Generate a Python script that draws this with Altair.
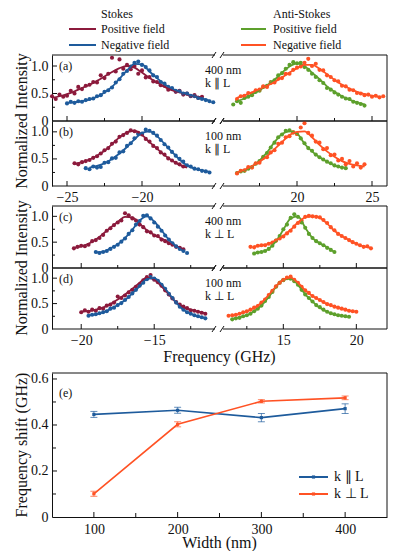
import altair as alt
import pandas as pd

FONT = "Liberation Serif"
BLACK = "#111111"
C_STOKES_POS = "#8c1a3c"
C_STOKES_NEG = "#1e5b9c"
C_ANTI_POS = "#5da02c"
C_ANTI_NEG = "#ff5224"

LEGEND_TITLES = ["Stokes", "Anti-Stokes"]
LEGEND_LABELS = ["Positive field", "Negative field"]
PANEL_TAGS = ["(a)", "(b)", "(c)", "(d)", "(e)"]
PANEL_NOTES = [["400 nm", "k \u2225 L"], ["100 nm", "k \u2225 L"],
               ["400 nm", "k \u22a5 L"], ["100 nm", "k \u22a5 L"]]
Y_TITLE_SPEC = "Normalized Intensity"
X_TITLE_SPEC = "Frequency (GHz)"
Y_TITLE_SHIFT = "Frequency shift (GHz)"
X_TITLE_WIDTH = "Width (nm)"
E_SERIES = ["k \u2225 L", "k \u22a5 L"]

# frequency sample grids (GHz)
GRID_AB_S = [-26.0, -25.75, -25.5, -25.25, -25.0, -24.75, -24.5, -24.25, -24.0, -23.75, -23.5, -23.25,
             -23.0, -22.75, -22.5, -22.25, -22.0, -21.75, -21.5, -21.25, -21.0, -20.75, -20.5, -20.25,
             -20.0, -19.75, -19.5, -19.25, -19.0, -18.75, -18.5, -18.25, -18.0, -17.75, -17.5, -17.25,
             -17.0, -16.75, -16.5, -16.25, -16.0, -15.75, -15.5, -15.25, -15.0]
GRID_AB_A = [15.0, 15.25, 15.5, 15.75, 16.0, 16.25, 16.5, 16.75, 17.0, 17.25, 17.5, 17.75,
             18.0, 18.25, 18.5, 18.75, 19.0, 19.25, 19.5, 19.75, 20.0, 20.25, 20.5, 20.75,
             21.0, 21.25, 21.5, 21.75, 22.0, 22.25, 22.5, 22.75, 23.0, 23.25, 23.5, 23.75,
             24.0, 24.25, 24.5, 24.75, 25.0, 25.25, 25.5, 25.75, 26.0]
GRID_CD_S = [-22.0, -21.75, -21.5, -21.25, -21.0, -20.75, -20.5, -20.25, -20.0, -19.75, -19.5, -19.25,
             -19.0, -18.75, -18.5, -18.25, -18.0, -17.75, -17.5, -17.25, -17.0, -16.75, -16.5, -16.25,
             -16.0, -15.75, -15.5, -15.25, -15.0, -14.75, -14.5, -14.25, -14.0, -13.75, -13.5, -13.25,
             -13.0, -12.75, -12.5, -12.25, -12.0, -11.75, -11.5, -11.25, -11.0]
GRID_CD_A = [11.0, 11.25, 11.5, 11.75, 12.0, 12.25, 12.5, 12.75, 13.0, 13.25, 13.5, 13.75,
             14.0, 14.25, 14.5, 14.75, 15.0, 15.25, 15.5, 15.75, 16.0, 16.25, 16.5, 16.75,
             17.0, 17.25, 17.5, 17.75, 18.0, 18.25, 18.5, 18.75, 19.0, 19.25, 19.5, 19.75,
             20.0, 20.25, 20.5, 20.75, 21.0, 21.25, 21.5, 21.75, 22.0]

# panel (a): 400 nm, k || L
A_S_POS_PTS = (-26.0, [0.45, 0.40, 0.48, 0.44, 0.46, 0.55, 0.50, 0.62, 0.58, 0.64, 0.66, 0.71, 0.70, 0.83, 0.78, 0.86,
                       1.15, 0.90, 1.12, 0.95, 1.02, 0.94, 1.00, 0.86, 0.92, 0.79, 0.80, 0.72, 0.71, 0.65, 0.64, 0.57,
                       0.58, 0.53, 0.55, 0.48, 0.50, 0.45, 0.47, 0.42, 0.44])
A_S_POS_FIT = (-26.0, [0.42, 0.45, 0.49, 0.54, 0.60, 0.66, 0.73, 0.81, 0.89, 0.96, 1.00, 0.97, 0.88, 0.78, 0.70, 0.62,
                       0.56, 0.52, 0.48, 0.45, 0.43])
A_S_NEG_PTS = (-25.0, [0.32, 0.35, 0.33, 0.36, 0.35, 0.38, 0.40, 0.41, 0.45, 0.47, 0.53, 0.56, 0.61, 0.70, 0.76, 0.86,
                       0.91, 0.99, 1.06, 1.08, 1.02, 0.98, 0.92, 0.83, 0.80, 0.71, 0.68, 0.62, 0.60, 0.55, 0.54, 0.50,
                       0.50, 0.46, 0.45, 0.42, 0.40, 0.38, 0.36, 0.34])
A_S_NEG_FIT = (-25.0, [0.33, 0.34, 0.36, 0.39, 0.44, 0.52, 0.62, 0.77, 0.92, 1.04, 1.03, 0.90, 0.78, 0.67, 0.59, 0.53,
                       0.49, 0.45, 0.41, 0.37])
A_A_POS_PTS = (15.75, [0.30, 0.36, 0.33, 0.42, 0.44, 0.47, 0.53, 0.55, 0.62, 0.64, 0.71, 0.74, 0.83, 0.87, 0.95, 1.02,
                       1.07, 1.05, 1.06, 0.98, 0.93, 0.86, 0.80, 0.74, 0.69, 0.60, 0.57, 0.52, 0.48, 0.44, 0.41, 0.40,
                       0.35, 0.33, 0.31, 0.28])
A_A_POS_FIT = (16.0, [0.36, 0.41, 0.48, 0.56, 0.65, 0.75, 0.88, 0.99, 1.05, 1.00, 0.88, 0.76, 0.63, 0.53, 0.45, 0.39,
                      0.34, 0.30])
A_A_NEG_PTS = (16.0, [0.40, 0.45, 0.46, 0.51, 0.50, 0.56, 0.57, 0.63, 0.62, 0.69, 0.70, 0.77, 0.78, 0.86, 0.86, 0.93,
                      0.97, 0.99, 1.06, 1.13, 1.00, 1.04, 0.93, 0.92, 0.83, 0.80, 0.74, 0.72, 0.64, 0.63, 0.57, 0.56,
                      0.51, 0.50, 0.47, 0.48, 0.44, 0.46, 0.43, 0.45])
A_A_NEG_FIT = (16.0, [0.42, 0.47, 0.52, 0.58, 0.64, 0.71, 0.79, 0.88, 0.96, 1.02, 1.02, 0.95, 0.85, 0.75, 0.66, 0.59,
                      0.53, 0.49, 0.46, 0.44])

# panel (b): 100 nm, k || L
B_S_POS_PTS = (-24.5, [0.42, 0.40, 0.44, 0.46, 0.48, 0.52, 0.55, 0.60, 0.66, 0.70, 0.78, 0.82, 0.91, 0.94, 0.98, 1.03,
                       1.01, 0.98, 0.95, 0.87, 0.82, 0.74, 0.70, 0.62, 0.58, 0.51, 0.47, 0.43, 0.40, 0.36])
B_S_POS_FIT = (-24.5, [0.41, 0.44, 0.49, 0.56, 0.65, 0.77, 0.90, 0.99, 1.02, 0.94, 0.81, 0.69, 0.57, 0.47, 0.39, 0.34])
B_S_NEG_PTS = (-23.75, [0.33, 0.31, 0.36, 0.34, 0.35, 0.43, 0.44, 0.51, 0.52, 0.62, 0.64, 0.74, 0.79, 0.88, 0.96, 0.97,
                        1.04, 1.02, 0.98, 0.93, 0.85, 0.77, 0.71, 0.63, 0.56, 0.50, 0.45, 0.38, 0.36, 0.32, 0.31, 0.28,
                        0.27, 0.25])
B_S_NEG_FIT = (-23.5, [0.34, 0.37, 0.42, 0.50, 0.60, 0.72, 0.86, 0.98, 1.01, 0.92, 0.78, 0.63, 0.49, 0.38, 0.32, 0.29,
                       0.26])
B_A_POS_PTS = (16.0, [0.24, 0.27, 0.28, 0.32, 0.35, 0.41, 0.46, 0.54, 0.61, 0.71, 0.80, 0.90, 0.95, 1.02, 1.03, 0.99,
                      0.96, 0.88, 0.79, 0.70, 0.65, 0.58, 0.53, 0.49, 0.45, 0.42, 0.38, 0.36, 0.34, 0.33])
B_A_POS_FIT = (16.0, [0.25, 0.29, 0.36, 0.47, 0.62, 0.81, 0.96, 1.01, 0.97, 0.78, 0.64, 0.53, 0.45, 0.38, 0.34])
B_A_NEG_PTS = (16.0, [0.23, 0.28, 0.29, 0.35, 0.34, 0.42, 0.43, 0.52, 0.53, 0.62, 0.66, 0.78, 0.80, 0.90, 0.92, 0.99,
                      0.96, 1.08, 1.16, 0.98, 0.93, 0.82, 0.80, 0.68, 0.70, 0.57, 0.58, 0.47, 0.50, 0.40, 0.46, 0.36,
                      0.42, 0.34, 0.40])
B_A_NEG_FIT = (16.0, [0.25, 0.30, 0.37, 0.45, 0.55, 0.68, 0.81, 0.94, 1.00, 1.01, 0.90, 0.76, 0.64, 0.54, 0.46, 0.41,
                      0.38, 0.36])

# panel (c): 400 nm, k perp L
C_S_POS_PTS = (-20.5, [0.38, 0.41, 0.43, 0.42, 0.45, 0.52, 0.54, 0.58, 0.64, 0.72, 0.77, 0.83, 0.88, 0.92, 1.06, 1.02,
                       0.96, 0.92, 0.84, 0.79, 0.71, 0.69, 0.63, 0.62, 0.55, 0.52, 0.48, 0.45, 0.41, 0.39, 0.36])
C_S_POS_FIT = (-20.5, [0.39, 0.42, 0.47, 0.55, 0.66, 0.78, 0.89, 0.99, 0.98, 0.86, 0.73, 0.64, 0.57, 0.49, 0.42, 0.36])
C_S_NEG_PTS = (-19.0, [0.31, 0.29, 0.31, 0.33, 0.37, 0.41, 0.45, 0.51, 0.57, 0.66, 0.73, 0.84, 0.91, 1.01, 1.02, 0.96,
                       0.88, 0.80, 0.72, 0.63, 0.55, 0.48, 0.42, 0.37, 0.33, 0.29])
C_S_NEG_FIT = (-19.0, [0.30, 0.31, 0.38, 0.46, 0.58, 0.74, 0.92, 1.00, 0.90, 0.73, 0.55, 0.42, 0.33])
C_A_POS_PTS = (13.0, [0.28, 0.30, 0.31, 0.33, 0.37, 0.43, 0.53, 0.62, 0.75, 0.84, 0.97, 1.04, 0.99, 0.88, 0.78, 0.66,
                      0.58, 0.52, 0.48, 0.44, 0.39, 0.35, 0.31])
C_A_POS_FIT = (13.0, [0.29, 0.31, 0.37, 0.52, 0.74, 0.96, 1.00, 0.78, 0.58, 0.48, 0.40, 0.31])
C_A_NEG_PTS = (12.75, [0.41, 0.40, 0.43, 0.44, 0.44, 0.47, 0.49, 0.53, 0.57, 0.61, 0.67, 0.72, 0.80, 0.87, 0.92, 0.99,
                       1.01, 1.00, 0.99, 0.98, 0.93, 0.87, 0.79, 0.73, 0.66, 0.62, 0.58, 0.54, 0.50, 0.47, 0.44, 0.41,
                       0.42, 0.38])
C_A_NEG_FIT = (13.0, [0.42, 0.44, 0.47, 0.54, 0.62, 0.74, 0.88, 0.98, 1.00, 0.97, 0.86, 0.72, 0.62, 0.54, 0.47, 0.42,
                      0.39])

# panel (d): 100 nm, k perp L
D_S_POS_PTS = (-20.0, [0.33, 0.37, 0.34, 0.38, 0.36, 0.41, 0.40, 0.46, 0.48, 0.52, 0.64, 0.61, 0.66, 0.72, 0.77, 0.83,
                       0.88, 0.96, 1.02, 1.06, 0.97, 0.92, 0.85, 0.76, 0.68, 0.60, 0.53, 0.48, 0.44, 0.41, 0.37, 0.36,
                       0.34, 0.32, 0.30])
D_S_POS_FIT = (-20.0, [0.34, 0.35, 0.38, 0.42, 0.49, 0.58, 0.68, 0.79, 0.91, 1.01, 0.97, 0.84, 0.68, 0.52, 0.43, 0.38,
                       0.34, 0.31])
D_S_NEG_PTS = (-19.5, [0.26, 0.28, 0.29, 0.31, 0.33, 0.35, 0.40, 0.42, 0.47, 0.51, 0.57, 0.63, 0.70, 0.77, 0.85, 0.91,
                       0.98, 1.02, 0.99, 0.95, 0.87, 0.79, 0.69, 0.61, 0.52, 0.44, 0.38, 0.33, 0.30, 0.27, 0.25, 0.23,
                       0.21])
D_S_NEG_FIT = (-19.5, [0.27, 0.29, 0.33, 0.39, 0.47, 0.57, 0.70, 0.84, 0.98, 1.00, 0.88, 0.70, 0.52, 0.38, 0.30, 0.25,
                       0.22])
D_A_POS_PTS = (11.5, [0.19, 0.21, 0.22, 0.25, 0.27, 0.30, 0.35, 0.40, 0.46, 0.55, 0.63, 0.73, 0.83, 0.91, 0.96, 1.00,
                      0.99, 0.94, 0.87, 0.77, 0.68, 0.61, 0.54, 0.47, 0.43, 0.38, 0.34, 0.31, 0.29, 0.27, 0.26, 0.25,
                      0.24])
D_A_POS_FIT = (11.5, [0.20, 0.23, 0.27, 0.35, 0.46, 0.63, 0.83, 0.97, 0.99, 0.87, 0.68, 0.54, 0.42, 0.34, 0.29, 0.26,
                      0.24])
D_A_NEG_PTS = (11.25, [0.26, 0.27, 0.28, 0.30, 0.33, 0.35, 0.38, 0.42, 0.45, 0.52, 0.58, 0.67, 0.75, 0.84, 0.91, 0.97,
                       1.01, 1.03, 0.97, 0.91, 0.83, 0.76, 0.71, 0.65, 0.61, 0.57, 0.53, 0.49, 0.47, 0.44, 0.42, 0.40,
                       0.38, 0.36, 0.35, 0.34])
D_A_NEG_FIT = (11.5, [0.26, 0.30, 0.35, 0.42, 0.52, 0.67, 0.84, 0.97, 1.01, 0.91, 0.76, 0.65, 0.57, 0.49, 0.44, 0.40,
                      0.36, 0.34])

# panel (e)
WIDTHS = [100, 200, 300, 400]
SHIFT_PAR = [0.446, 0.464, 0.432, 0.471]
ERR_PAR = [0.013, 0.013, 0.018, 0.021]
SHIFT_PERP = [0.101, 0.403, 0.503, 0.518]
ERR_PERP = [0.011, 0.011, 0.007, 0.008]

# axis tick values and broken-axis domains
TICKS_AB = ([-25, -20, 20, 25], [-22.5, -17.5, 17.5, 22.5])
TICKS_CD = ([-20, -15, 15, 20], [-17.5, -12.5, 12.5, 17.5])
TICKS_Y = ([0.5, 1.0], [0.25, 0.75])
TICKS_E_X = ([100, 200, 300, 400], [150, 250, 350])
TICKS_E_Y = ([0.2, 0.4, 0.6], [0.1, 0.3, 0.5])
DOM_AB = [-26, -15, 15, 26]
DOM_CD = [-22, -10.7, 10.8, 22.1]

W = 335
W_SIDE = 165
GAP = 5
ONE = pd.DataFrame({"k": [0]})
YLAB = "datum.value == 0 ? '0' : format(datum.value, '.1f')"


def txt(text, x, y, size, align="left", baseline="middle", angle=0, color=BLACK):
    return alt.Chart(pd.DataFrame({"t": [text]})).mark_text(
        font=FONT, fontSize=size, align=align, baseline=baseline, angle=angle, color=color
    ).encode(x=alt.value(x), y=alt.value(y), text="t:N")


def seg(x1, y1, x2, y2, color=BLACK, width=1.0):
    return alt.Chart(ONE).mark_rule(color=color, strokeWidth=width).encode(
        x=alt.value(x1), x2=alt.value(x2), y=alt.value(y1), y2=alt.value(y2))


def dot(x, y, color):
    return alt.Chart(ONE).mark_square(color=color, size=10, opacity=1).encode(x=alt.value(x), y=alt.value(y))


def frames(grid, pts, fit):
    i = grid.index(pts[0])
    dp = pd.DataFrame({"f": grid[i:i + len(pts[1])], "I": pts[1]})
    fg = grid[::2]
    j = fg.index(fit[0])
    df = pd.DataFrame({"f": fg[j:j + len(fit[1])], "I": fit[1]})
    return dp, df


def spec_row(grids, domain, ticks, curves, H, tag, notes, xlabels, extra=()):
    xs = alt.Scale(domain=domain, range=[0, W_SIDE, W_SIDE + GAP, W], nice=False, zero=False)
    ys = alt.Scale(domain=[0, 1.2], nice=False, zero=False)
    xaxis = alt.Axis(values=ticks[0], labels=xlabels, ticks=False, grid=False, domain=False, title=None,
                     labelFont=FONT, labelFontSize=14, labelPadding=4, labelColor=BLACK,
                     labelOverlap=False, labelFlush=False)
    yaxis = alt.Axis(values=[0, 0.5, 1.0], labelExpr=YLAB, ticks=False, grid=False, domain=True,
                     title=None, labelFont=FONT, labelFontSize=14, labelPadding=4, labelColor=BLACK,
                     domainColor=BLACK, domainWidth=1, labelOverlap=False, labelFlush=False)
    X = alt.X("f:Q", scale=xs, axis=xaxis)
    Y = alt.Y("I:Q", scale=ys, axis=yaxis)
    pts_layers, fit_layers = [], []
    for grid, pts, fit, color in curves:
        dp, df = frames(grids[grid], pts, fit)
        pts_layers.append(alt.Chart(dp).mark_circle(size=17, color=color, opacity=1).encode(x=X, y=Y))
        fit_layers.append(alt.Chart(df).mark_line(color=color, strokeWidth=1.8, interpolate="monotone")
                          .encode(x=X, y=Y))
    layers = pts_layers + fit_layers
    for vals, ln in ((ticks[0], 5), (ticks[1], 3)):
        layers.append(alt.Chart(pd.DataFrame({"v": vals})).mark_rule(color=BLACK, strokeWidth=1).encode(
            x=alt.X("v:Q", scale=xs, axis=xaxis), y=alt.value(H), y2=alt.value(H - ln)))
    for vals, ln in ((TICKS_Y[0], 5), (TICKS_Y[1], 3)):
        layers.append(alt.Chart(pd.DataFrame({"v": vals})).mark_rule(color=BLACK, strokeWidth=1).encode(
            y=alt.Y("v:Q", scale=ys, axis=yaxis), x=alt.value(0), x2=alt.value(ln)))
    # frame with axis break
    for yy in (0, H):
        layers.append(seg(0, yy, W_SIDE - 2, yy))
        layers.append(seg(W_SIDE + GAP + 1, yy, W, yy))
        layers.append(seg(W_SIDE - 5, yy + 3, W_SIDE - 1, yy - 3))
        layers.append(seg(W_SIDE + GAP - 2, yy + 3, W_SIDE + GAP + 2, yy - 3))
    layers.append(seg(W, 0, W, H))
    layers += [txt(tag, 7, 11, 12), txt(notes[0], 153, 15, 12), txt(notes[1], 153, 28, 12)]
    layers += list(extra)
    return alt.layer(*layers).properties(width=W, height=H)


def spacer(h):
    return alt.Chart(ONE).mark_point(opacity=0).encode(x=alt.value(0), y=alt.value(0)).properties(
        width=W, height=h)


ylab_ab = txt(Y_TITLE_SPEC, -25, 66, 16, align="center", baseline="alphabetic", angle=270)
row_a = spec_row((GRID_AB_S, GRID_AB_A), DOM_AB, TICKS_AB,
                 [(0, A_S_POS_PTS, A_S_POS_FIT, C_STOKES_POS), (0, A_S_NEG_PTS, A_S_NEG_FIT, C_STOKES_NEG),
                  (1, A_A_POS_PTS, A_A_POS_FIT, C_ANTI_POS), (1, A_A_NEG_PTS, A_A_NEG_FIT, C_ANTI_NEG)],
                 66, PANEL_TAGS[0], PANEL_NOTES[0], False, extra=[ylab_ab])
row_b = spec_row((GRID_AB_S, GRID_AB_A), DOM_AB, TICKS_AB,
                 [(0, B_S_POS_PTS, B_S_POS_FIT, C_STOKES_POS), (0, B_S_NEG_PTS, B_S_NEG_FIT, C_STOKES_NEG),
                  (1, B_A_POS_PTS, B_A_POS_FIT, C_ANTI_POS), (1, B_A_NEG_PTS, B_A_NEG_FIT, C_ANTI_NEG)],
                 65, PANEL_TAGS[1], PANEL_NOTES[1], True)
ylab_cd = txt(Y_TITLE_SPEC, -25, 62, 16, align="center", baseline="alphabetic", angle=270)
row_c = spec_row((GRID_CD_S, GRID_CD_A), DOM_CD, TICKS_CD,
                 [(0, C_S_POS_PTS, C_S_POS_FIT, C_STOKES_POS), (0, C_S_NEG_PTS, C_S_NEG_FIT, C_STOKES_NEG),
                  (1, C_A_POS_PTS, C_A_POS_FIT, C_ANTI_POS), (1, C_A_NEG_PTS, C_A_NEG_FIT, C_ANTI_NEG)],
                 62, PANEL_TAGS[2], PANEL_NOTES[2], False, extra=[ylab_cd])
xlab_cd = txt(X_TITLE_SPEC, 167.5, 28 + 61, 16, align="center")
row_d = spec_row((GRID_CD_S, GRID_CD_A), DOM_CD, TICKS_CD,
                 [(0, D_S_POS_PTS, D_S_POS_FIT, C_STOKES_POS), (0, D_S_NEG_PTS, D_S_NEG_FIT, C_STOKES_NEG),
                  (1, D_A_POS_PTS, D_A_POS_FIT, C_ANTI_POS), (1, D_A_NEG_PTS, D_A_NEG_FIT, C_ANTI_NEG)],
                 61, PANEL_TAGS[3], PANEL_NOTES[3], True, extra=[xlab_cd])

# ---- panel (e)
HE = 144
xs_e = alt.Scale(domain=[50, 450], nice=False, zero=False)
ys_e = alt.Scale(domain=[0, 0.626], nice=False, zero=False)
xaxis_e = alt.Axis(values=TICKS_E_X[0], ticks=False, grid=False, domain=True, title=None, labelFont=FONT,
                   labelFontSize=14, labelPadding=5, labelColor=BLACK, domainColor=BLACK, labelFlush=False)
yaxis_e = alt.Axis(values=[0, 0.2, 0.4, 0.6], labelExpr=YLAB, ticks=False, grid=False, domain=True, title=None,
                   labelFont=FONT, labelFontSize=14, labelPadding=4, labelColor=BLACK, domainColor=BLACK,
                   labelFlush=False)
XE = alt.X("w:Q", scale=xs_e, axis=xaxis_e)

e_layers = []
for shifts, errs, color in ((SHIFT_PAR, ERR_PAR, C_STOKES_NEG), (SHIFT_PERP, ERR_PERP, C_ANTI_NEG)):
    d = pd.DataFrame({"w": WIDTHS, "s": shifts, "e": errs})
    d["lo"] = d["s"] - d["e"]
    d["hi"] = d["s"] + d["e"]
    base = alt.Chart(d)
    e_layers.append(base.mark_rule(color=color, strokeWidth=1, opacity=0.7).encode(
        x=XE, y=alt.Y("lo:Q", scale=ys_e, axis=yaxis_e), y2="hi:Q"))
    for col in ("lo", "hi"):
        e_layers.append(base.mark_tick(color=color, orient="horizontal", size=7, thickness=1, opacity=0.7).encode(
            x=XE, y=alt.Y(col + ":Q", scale=ys_e, axis=yaxis_e)))
    e_layers.append(base.mark_line(color=color, strokeWidth=1.6).encode(
        x=XE, y=alt.Y("s:Q", scale=ys_e, axis=yaxis_e)))
    e_layers.append(base.mark_square(color=color, size=10, opacity=1).encode(
        x=XE, y=alt.Y("s:Q", scale=ys_e, axis=yaxis_e)))

for vals, ln in ((TICKS_E_X[0], 5), (TICKS_E_X[1], 4)):
    e_layers.append(alt.Chart(pd.DataFrame({"v": vals})).mark_rule(color=BLACK, strokeWidth=1).encode(
        x=alt.X("v:Q", scale=xs_e, axis=xaxis_e), y=alt.value(HE), y2=alt.value(HE - ln)))
for vals, ln in ((TICKS_E_Y[0], 5), (TICKS_E_Y[1], 4)):
    e_layers.append(alt.Chart(pd.DataFrame({"v": vals})).mark_rule(color=BLACK, strokeWidth=1).encode(
        y=alt.Y("v:Q", scale=ys_e, axis=yaxis_e), x=alt.value(0), x2=alt.value(ln)))
e_layers += [
    seg(0, 0, W, 0), seg(W, 0, W, HE),
    txt(PANEL_TAGS[4], 7, 20, 12),
    seg(247, 104, 276, 104, C_STOKES_NEG, 2), seg(247, 121, 276, 121, C_ANTI_NEG, 2),
    dot(261.5, 104, C_STOKES_NEG), dot(261.5, 121, C_ANTI_NEG),
    txt(E_SERIES[0], 282, 104, 14), txt(E_SERIES[1], 282, 121, 14),
    txt(X_TITLE_WIDTH, 167.5, 170, 16, align="center"),
    txt(Y_TITLE_SHIFT, -25, 72, 16, align="center", baseline="alphabetic", angle=270),
]
panel_e = alt.layer(*e_layers).properties(width=W, height=HE)

# ---- top legends
legend = alt.layer(
    txt(LEGEND_TITLES[0], 49, 6, 12),
    seg(17, 21, 44, 21, C_STOKES_POS, 2), txt(LEGEND_LABELS[0], 49, 21, 12),
    seg(17, 37, 44, 37, C_STOKES_NEG, 2), txt(LEGEND_LABELS[1], 49, 37, 12),
    txt(LEGEND_TITLES[1], 221, 6, 12),
    seg(189, 21, 214, 21, C_ANTI_POS, 2), txt(LEGEND_LABELS[0], 221, 21, 12),
    seg(189, 37, 214, 37, C_ANTI_NEG, 2), txt(LEGEND_LABELS[1], 221, 37, 12),
).properties(width=W, height=44)

chart = alt.vconcat(
    legend, spacer(3), row_a, row_b, spacer(20), row_c, row_d, spacer(44), panel_e,
    spacing=0, bounds="flush"
).resolve_scale(x="independent", y="independent").properties(
    padding={"left": 5, "top": 0, "right": 0, "bottom": 0}, background="white"
).configure_view(stroke=None)

chart.save("out.html", embed_options={"renderer": "svg", "actions": False})
